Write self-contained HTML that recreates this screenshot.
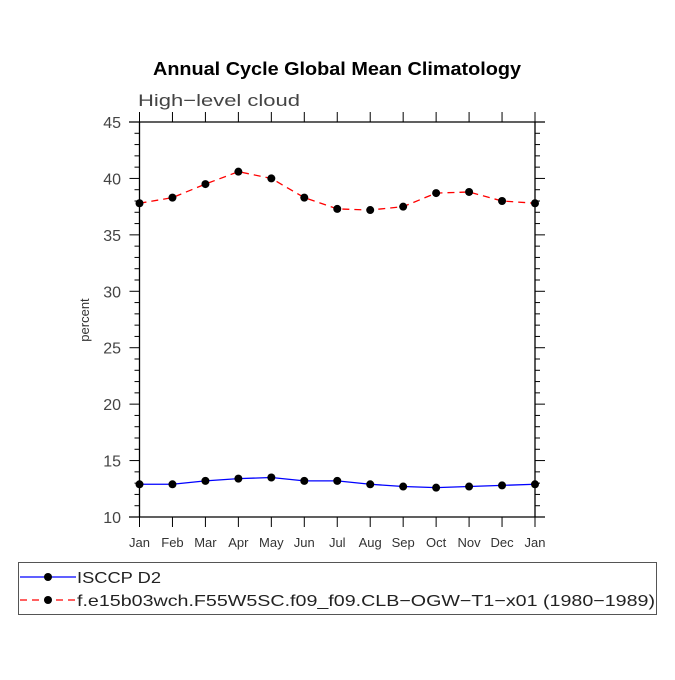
<!DOCTYPE html>
<html><head><meta charset="utf-8"><style>
body{margin:0;background:#fff;}
svg text{font-family:"Liberation Sans",sans-serif;}
</style></head><body>
<svg id="c" width="675" height="675" viewBox="0 0 675 675">
<text x="153" y="75" textLength="368" lengthAdjust="spacingAndGlyphs" font-size="18" font-weight="bold">Annual Cycle Global Mean Climatology</text>
<text x="138" y="106" textLength="162" lengthAdjust="spacingAndGlyphs" font-size="17" fill="#444">High−level cloud</text>
<text transform="translate(89,320) rotate(-90)" text-anchor="middle" font-size="13" fill="#333">percent</text>
<g id="axes"></g>
<g id="marks"></g>
<rect x="18.5" y="562.5" width="638" height="52" fill="none" stroke="#555"/>
<g>
<line x1="20" y1="577" x2="76" y2="577" stroke="#00f" stroke-width="1.3"/>
<circle cx="48" cy="577" r="4" fill="#000"/>
<text x="77" y="583" textLength="84" lengthAdjust="spacingAndGlyphs" font-size="16" fill="#222">ISCCP D2</text>
</g>
<g>
<line x1="20" y1="600" x2="76" y2="600" stroke="#f00" stroke-width="1.3" stroke-dasharray="7,5"/>
<circle cx="48" cy="600" r="4" fill="#000"/>
<text x="77" y="606" textLength="578" lengthAdjust="spacingAndGlyphs" font-size="16" fill="#222">f.e15b03wch.F55W5SC.f09_f09.CLB−OGW−T1−x01 (1980−1989)</text>
</g>
</svg>
<script>
const months=["Jan","Feb","Mar","Apr","May","Jun","Jul","Aug","Sep","Oct","Nov","Dec","Jan"];
const isccp=[12.9,12.9,13.2,13.4,13.5,13.2,13.2,12.9,12.7,12.6,12.7,12.8,12.9];
const model=[37.8,38.3,39.5,40.6,40.0,38.3,37.3,37.2,37.5,38.7,38.8,38.0,37.8];
const yTicks=[10,15,20,25,30,35,40,45];
const NS="http://www.w3.org/2000/svg";
const L=139.5,R=535,T=122,B=517,ymin=10,ymax=45;
const xs=i=>L+(R-L)*i/(months.length-1);
const ys=v=>B-(v-ymin)/(ymax-ymin)*(B-T);
function mk(tag,a,p){const e=document.createElementNS(NS,tag);for(const k in a)e.setAttribute(k,a[k]);p.appendChild(e);return e;}
const ax=document.getElementById('axes'),mg=document.getElementById('marks');
const fr=mk('g',{},ax);


mk('line',{x1:129,y1:T,x2:545,y2:T,stroke:'#000','stroke-width':1.3},fr);
mk('line',{x1:129,y1:B,x2:545,y2:B,stroke:'#000','stroke-width':1.3},fr);
mk('line',{x1:L,y1:T,x2:L,y2:B,stroke:'#000','stroke-width':1.3},fr);
mk('line',{x1:R,y1:T,x2:R,y2:B,stroke:'#000','stroke-width':1.3},fr);
months.forEach((m,i)=>{
 const x=xs(i);
 mk('line',{x1:x,y1:T,x2:x,y2:T-10,stroke:'#000'},fr);
 mk('line',{x1:x,y1:B,x2:x,y2:B+10,stroke:'#000'},fr);
 const t=mk('text',{x:x,y:B+30,'text-anchor':'middle','font-size':13,fill:'#333'},ax);
 t.textContent=m;
 
 
});
for(let v=ymin;v<=ymax;v++){
 const y=ys(v),maj=v%5===0;
 mk('line',{x1:L,y1:y,x2:L-(maj?10:5),y2:y,stroke:'#000'},fr);
 mk('line',{x1:R,y1:y,x2:R+(maj?10:5),y2:y,stroke:'#000'},fr);
}
yTicks.forEach(v=>{
 const t=mk('text',{x:121,y:ys(v)+6,'text-anchor':'end','font-size':16,fill:'#444'},ax);
 t.textContent=v;
 
 
});
function series(vals,color,dash,name){
 const g=mk('g',{},mg);
 
 
 const a={points:vals.map((v,i)=>xs(i)+','+ys(v)).join(' '),fill:'none',stroke:color,'stroke-width':1.3};
 if(dash)a['stroke-dasharray']=dash;
 mk('polyline',a,g);
 vals.forEach((v,i)=>{
  const c=mk('circle',{cx:xs(i),cy:ys(v),r:4,fill:'#000'},g);
  
  
 });
}
series(isccp,'#00f',null,'series-isccp-d2');
series(model,'#f00','7,5','series-model');
</script>
</body></html>
